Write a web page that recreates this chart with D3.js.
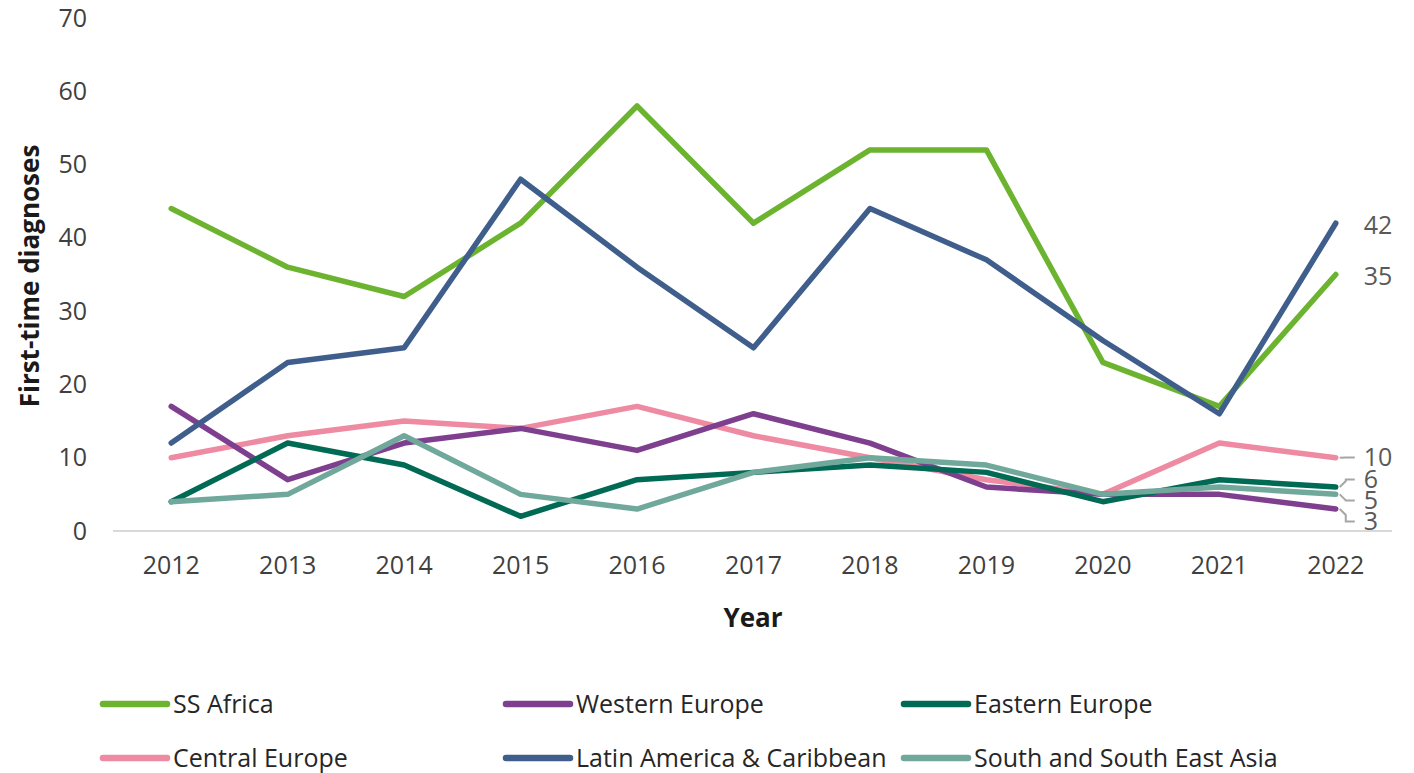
<!DOCTYPE html>
<html><head><meta charset="utf-8">
<script src="https://cdn.jsdelivr.net/npm/d3@7"></script>
<style>
html,body{margin:0;padding:0;background:#fff;}
text{font-family:"Open Sans","Noto Sans",sans-serif;}
</style></head>
<body><svg id="chart" width="1414" height="773"></svg>
<script>
const years = ["2012","2013","2014","2015","2016","2017","2018","2019","2020","2021","2022"];
const seriesNames = ["SS Africa","Western Europe","Eastern Europe","Central Europe","Latin America & Caribbean","South and South East Asia"];
const ssAfrica      = [44,36,32,42,58,42,52,52,23,17,35];
const westernEurope = [17,7,12,14,11,16,12,6,5,5,3];
const easternEurope = [4,12,9,2,7,8,9,8,4,7,6];
const centralEurope = [10,13,15,14,17,13,10,7,5,12,10];
const latinAmerica  = [12,23,25,48,36,25,44,37,26,16,42];
const ssEastAsia    = [4,5,13,5,3,8,10,9,5,6,5];
const yTicks = [0,10,20,30,40,50,60,70];
const colors = ["#6cb42f","#7f3f8f","#006a55","#ee8aa2","#3f5e8c","#70a89b"];

const seriesValues = [ssAfrica,westernEurope,easternEurope,centralEurope,latinAmerica,ssEastAsia];
const drawOrder = [3,1,2,5,0,4];

const svg = d3.select("#chart");
const x = d3.scaleBand().domain(years).range([113,1394]);
const y = d3.scaleLinear().domain([0,70]).range([531,18]);
const cx = d => x(d) + x.bandwidth()/2;

svg.append("line").attr("x1",113).attr("x2",1392).attr("y1",y(0)).attr("y2",y(0))
  .attr("stroke","#d9d9d9").attr("stroke-width",2);

const yAxis = d3.axisLeft(y).tickValues(yTicks).tickSize(0).tickPadding(0);
const gy = svg.append("g").attr("transform","translate(87,0)").call(yAxis);
gy.select(".domain").remove();
gy.selectAll("text").attr("font-size",25).attr("fill","#404040").attr("font-family","Open Sans");

const xAxis = d3.axisBottom(x).tickSize(0).tickPadding(0);
const gx = svg.append("g").attr("transform","translate(0,556)").call(xAxis);
gx.select(".domain").remove();
gx.selectAll("text").attr("font-size",25).attr("fill","#404040").attr("font-family","Open Sans");

svg.append("text").attr("x",753).attr("y",627).attr("text-anchor","middle")
  .attr("font-size",26).attr("font-weight","bold").attr("fill","#1a1a1a").text("Year");
svg.append("text").attr("transform","translate(39,276) rotate(-90)").attr("text-anchor","middle")
  .attr("font-size",26).attr("font-weight","bold").attr("fill","#1a1a1a").text("First-time diagnoses");

const line = d3.line().x((d,i)=>cx(years[i])).y(d=>y(d));
drawOrder.forEach(si=>{
  svg.append("path").datum(seriesValues[si]).attr("d",line)
    .attr("fill","none").attr("stroke",colors[si]).attr("stroke-width",5.5)
    .attr("stroke-linejoin","round").attr("stroke-linecap","round");
});

// end labels
const last = years.length-1;
const ex = cx(years[last]);
let labels = seriesValues.map((v,i)=>({i, v:v[last], py:y(v[last]), ly:y(v[last])}));
labels.sort((a,b)=>a.py-b.py);
const gap = 21;
for(let it=0; it<200; it++){
  for(let k=1;k<labels.length;k++){
    const a=labels[k-1], b=labels[k];
    const d = b.ly - a.ly;
    if(d<gap){ const s=(gap-d)/2; a.ly-=s; b.ly+=s; }
  }
}
labels.forEach(l=>{
  const moved = Math.abs(l.ly - l.py) > 3;
  const lyAdj = moved ? l.ly + 3 : l.ly + 2;
  if(moved || l.v<=10){
    const path = d3.path();
    path.moveTo(ex+4, l.py);
    path.lineTo(ex+10, l.py + Math.sign(lyAdj-l.py)*Math.min(6,Math.abs(lyAdj-l.py)));
    path.lineTo(ex+10, lyAdj);
    path.lineTo(ex+19, lyAdj);
    svg.append("path").attr("d",path.toString()).attr("fill","none")
      .attr("stroke","#a6a6a6").attr("stroke-width",2);
  }
  svg.append("text").attr("x",ex+28).attr("y",lyAdj).attr("dy","0.35em")
    .attr("font-size",25).attr("fill","#595959").text(l.v);
});

// legend
const legCols = [100,503,901];
const legRows = [704,758];
seriesNames.forEach((n,i)=>{
  const lx = legCols[i%3], ly = legRows[Math.floor(i/3)];
  svg.append("line").attr("x1",lx+3).attr("x2",lx+67).attr("y1",ly).attr("y2",ly)
    .attr("stroke",colors[i]).attr("stroke-width",6.5).attr("stroke-linecap","round");
  svg.append("text").attr("x",lx+73).attr("y",ly).attr("dy","0.35em")
    .attr("font-size",25).attr("fill","#262626").text(n);
});
</script></body></html>
